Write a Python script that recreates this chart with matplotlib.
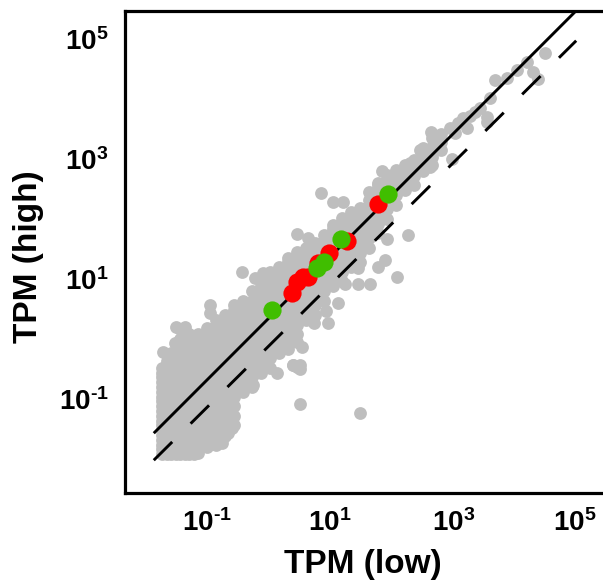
import matplotlib
matplotlib.use("Agg")
import matplotlib.pyplot as plt
from matplotlib.transforms import ScaledTranslation

plt.rcParams['font.family'] = ['Liberation Sans', 'DejaVu Sans']
plt.rcParams['mathtext.fontset'] = 'custom'
plt.rcParams['mathtext.rm'] = 'Liberation Sans:bold'
plt.rcParams['mathtext.it'] = 'Liberation Sans:bold'
plt.rcParams['mathtext.bf'] = 'Liberation Sans:bold'

# All values are log10(TPM).
cloud_columns = [
 (-1.88, [-1.92,-1.84,-1.76,-1.68,-1.60,-1.52,-1.44,-1.36,-1.28,-1.20,-1.12,-1.04,-0.96,-0.88,-0.80,-0.72,-0.64,-0.56,-0.48]),
 (-1.80, [-1.92,-0.36]),
 (-1.73, [-1.92,-1.84,-1.68,-1.52,-1.36,-1.20,-1.04,-0.88,-0.72,-0.56,-0.40,-0.24]),
 (-1.65, [-1.92]),
 (-1.58, [-1.92,-1.76,-1.60,-1.44,-1.28,-1.12,-0.96,-0.80,-0.64,-0.48,-0.32,-0.16,0.0,0.16]),
 (-1.50, [-1.92]),
 (-1.43, [-1.92,-1.84,-1.68,-1.52,-1.36,-1.20,-1.04,-0.88,-0.72,-0.56,-0.40,-0.24,-0.08,0.08]),
 (-1.35, [-1.92]),
 (-1.28, [-1.90,-1.76,-1.60,-1.44,-1.28,-1.12,-0.96,-0.80,-0.64,-0.48,-0.32,-0.16,0.0,0.08]),
 (-1.13, [-1.80,-1.68,-1.52,-1.36,-1.20,-1.04,-0.88,-0.72,-0.56,-0.40,-0.24,-0.08,0.08,0.18]),
 (-0.98, [-1.76,-1.60,-1.44,-1.28,-1.12,-0.96,-0.80,-0.64,-0.48,-0.32,-0.16,0.0,0.16,0.32]),
 (-0.83, [-1.62,-1.52,-1.36,-1.20,-1.04,-0.88,-0.72,-0.56,-0.40,-0.24,-0.08,0.08,0.24,0.40]),
 (-0.68, [-1.44,-1.28,-1.12,-0.96,-0.80,-0.64,-0.48,-0.32,-0.16,0.0,0.16,0.32,0.48,0.57]),
 (-0.53, [-0.88,-0.72,-0.56,-0.40,-0.24,-0.08,0.08,0.24,0.40,0.56,0.64]),
 (-0.38, [-0.80,-0.64,-0.48,-0.32,-0.16,0.0,0.16,0.32,0.48,0.64,0.80]),
 (-0.23, [-0.56,-0.40,-0.24,-0.08,0.08,0.24,0.40,0.56,0.72,0.88,0.98]),
 (-0.08, [-0.48,-0.32,-0.16,0.0,0.16,0.32,0.48,0.64,0.80,0.96,1.12]),
 (0.07, [-0.24,-0.08,0.08,0.24,0.40,0.56,0.72,0.88,1.04,1.20]),
 (0.22, [-0.16,0.0,0.16,0.32,0.48,0.64,0.80,0.96,1.12,1.28,1.35]),
 (0.37, [0.08,0.24,0.40,0.56,0.72,0.88,1.04,1.20,1.36,1.45]),
 (0.52, [0.32,0.48,0.64,0.80,0.96,1.12,1.28,1.44,1.52]),
 (0.67, [0.40,0.56,0.72,0.88,1.04,1.20,1.36,1.52,1.60]),
 (0.82, [0.64,0.80,0.96,1.12,1.28,1.44,1.60,1.73]),
 (0.97, [0.88,1.04,1.20,1.36,1.52,1.68,1.84,1.90]),
 (1.12, [0.96,1.12,1.28,1.44,1.60,1.76,1.92,2.02]),
 (1.27, [1.20,1.36,1.52,1.68,1.84,2.00,2.12]),
 (1.42, [1.28,1.44,1.60,1.76,1.92,2.08,2.18]),
 (1.57, [1.52,1.68,1.84,2.00,2.16,2.32,2.45]),
 (1.72, [1.76,1.92,2.08,2.24,2.40,2.56,2.60]),
 (1.87, [2.00,2.16,2.32,2.48,2.64,2.73]),
 (2.02, [2.24,2.40,2.56,2.72,2.82]),
 (2.17, [2.48,2.64,2.80,2.90]),
 (2.32, [2.56,2.72,2.88,2.98]),
 (2.47, [2.80,2.96,3.12,3.18]),
 (2.62, [2.90,3.04,3.20,3.35]),
 (2.77, [3.15,3.28,3.42]),
]

outlier_x = [0.42,1.42,0.03,0.37,0.30,0.42,0.37,0.45,-0.37,
             0.77,0.97,1.13,1.78,0.37,0.55,2.03,2.22,1.87,-0.55,-0.33,-0.20,
             1.05,0.85,0.65,0.88,1.38,1.58,1.17,1.72,1.83,1.38,
             -1.08,-1.08,-1.65,-1.50,-1.87,-1.67,-0.88,-0.72,-0.78,0.30,0.42,
             2.42,2.60,2.95,2.25,2.58,2.75,2.92,3.13,3.33,3.53,3.53,3.58,3.67,
             3.87,4.03,4.20,4.30,4.38,4.50,3.00,3.05,3.20,3.25,3.42]
outlier_y = [-1.08,-1.23,-0.57,-0.47,-0.43,-0.43,-0.05,-0.13,-0.77,
             2.43,2.28,2.28,2.80,1.75,1.68,1.03,1.73,1.67,1.12,1.02,1.10,
             0.60,0.47,0.27,0.27,0.92,0.92,0.92,1.20,1.32,1.18,
             0.57,0.43,0.20,0.20,-0.22,-0.07,-1.73,-1.48,-1.57,-0.43,-0.50,
             3.15,3.45,3.00,2.93,2.87,3.37,3.52,3.68,3.78,3.70,3.62,4.02,4.32,
             4.35,4.48,4.62,4.45,4.33,4.77,3.43,3.60,3.52,3.72,3.85]

red_x = [1.72,1.20,0.90,0.72,0.55,0.47,0.37,0.28]
red_y = [2.25,1.63,1.43,1.27,1.03,1.03,0.95,0.77]
green_x = [1.88,1.10,0.82,0.70,-0.05]
green_y = [2.42,1.67,1.28,1.18,0.48]

line_x = [-2.02, 5.02]
solid_y = [-1.57, 5.47]
dashed_y = [-2.02, 4.97]

tick_exponents = [-1, 1, 3, 5]
x_label_shift_px = [-8, -5, -1, 0]

def p10(vals):
    return [10 ** v for v in vals]

gray_x = [x for x, ys in cloud_columns for _ in ys] + outlier_x
gray_y = [y for _, ys in cloud_columns for y in ys] + outlier_y

fig = plt.figure(figsize=(6.03, 5.86), dpi=100)
ax = fig.add_axes([124.5/603, 1-492.5/586, 1-124.5/603, (492.5-10.7)/586])
ax.set_xscale('log'); ax.set_yscale('log')
ax.set_xlim(10**-2.508, 10**5.467)
ax.set_ylim(10**-2.558, 10**5.47)

ax.scatter(p10(gray_x), p10(gray_y), s=85, color='#BEBEBE', linewidths=0, zorder=2)
ax.plot(p10(line_x), p10(solid_y), color='black', lw=2.1, solid_capstyle='butt', zorder=3)
ax.plot(p10(line_x), p10(dashed_y), color='black', lw=2.1, dashes=(8.9, 8.9),
        dash_capstyle='butt', zorder=3)
ax.scatter(p10(red_x), p10(red_y), s=172, color='#FF0000', linewidths=0, zorder=4)
ax.scatter(p10(green_x), p10(green_y), s=172, color='#40BE00', linewidths=0, zorder=5)

for s in ax.spines.values():
    s.set_linewidth(2.3)
ax.spines['right'].set_visible(False)

ticks = [10.0 ** e for e in tick_exponents]
labels = [r'$\mathrm{10}^{\text{%d}}$' % e for e in tick_exponents]
ax.set_xticks(ticks); ax.set_xticklabels(labels)
ax.set_yticks(ticks); ax.set_yticklabels(labels)
ax.minorticks_off()
ax.tick_params(axis='both', which='major', length=1, width=0.8, labelsize=20, direction='out')
ax.tick_params(axis='x', pad=11)
ax.tick_params(axis='y', pad=10.5)
for lab, dx in zip(ax.get_xticklabels(), x_label_shift_px):
    lab.set_transform(lab.get_transform() + ScaledTranslation(dx/100, 0, fig.dpi_scale_trans))

ax.set_xlabel('TPM (low)', fontsize=24, fontweight='bold')
ax.set_ylabel('TPM (high)', fontsize=24, fontweight='bold')
ax.xaxis.set_label_coords((363-124.5)/478.5, (492.5-564)/481.8, transform=ax.transAxes)
ax.xaxis.label.set_verticalalignment('center')
ax.yaxis.set_label_coords((29-124.5)/478.5, (492.5-257)/481.8, transform=ax.transAxes)
ax.yaxis.label.set_verticalalignment('center')

fig.savefig('out.png', dpi=100)
